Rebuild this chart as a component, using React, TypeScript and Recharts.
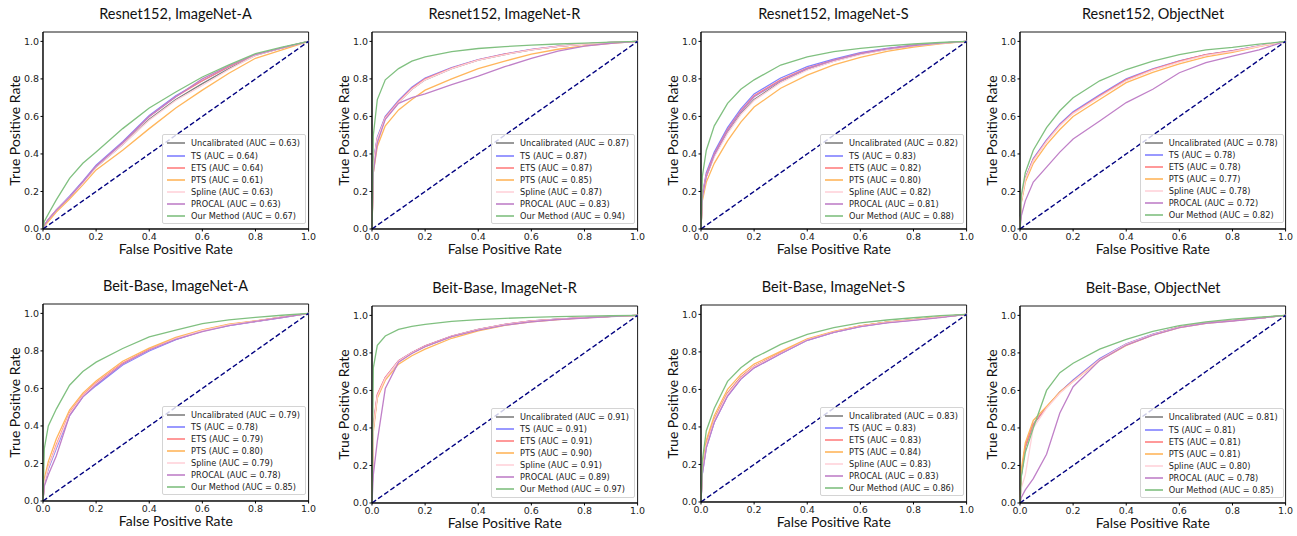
import { LineChart, Line, XAxis, YAxis, ReferenceArea, Legend, Label } from "recharts";

// shared FPR grid, every TPR list below is read at these points
const fpr = [0, 0.005, 0.02, 0.05, 0.1, 0.15, 0.2, 0.3, 0.4, 0.5, 0.6, 0.7, 0.8, 0.9, 1];
const axisTicks = [0, 0.2, 0.4, 0.6, 0.8, 1.0];

const methods = ["Uncalibrated", "TS", "ETS", "PTS", "Spline", "PROCAL", "Our Method"];
const methodColors = ["#808080", "#8080ff", "#ff8080", "#ffb65c", "#ffd3da", "#c080c8", "#80c080"];

// order of rows: Uncalibrated, TS, ETS, PTS, Spline, PROCAL, Our Method
const resnetA = [
  [0, 0.02, 0.05, 0.1, 0.17, 0.25, 0.33, 0.45, 0.585, 0.69, 0.775, 0.855, 0.925, 0.965, 1],
  [0, 0.02, 0.05, 0.1, 0.175, 0.255, 0.34, 0.465, 0.605, 0.71, 0.79, 0.865, 0.93, 0.965, 1],
  [0, 0.02, 0.05, 0.1, 0.17, 0.25, 0.335, 0.46, 0.6, 0.705, 0.79, 0.865, 0.93, 0.965, 1],
  [0, 0.015, 0.04, 0.09, 0.16, 0.235, 0.315, 0.42, 0.535, 0.645, 0.74, 0.83, 0.91, 0.955, 1],
  [0, 0.02, 0.05, 0.1, 0.17, 0.245, 0.33, 0.45, 0.58, 0.685, 0.765, 0.85, 0.925, 0.965, 1],
  [0, 0.02, 0.05, 0.1, 0.17, 0.25, 0.335, 0.46, 0.6, 0.705, 0.8, 0.87, 0.93, 0.965, 1],
  [0, 0.04, 0.08, 0.155, 0.27, 0.35, 0.41, 0.535, 0.645, 0.73, 0.81, 0.875, 0.935, 0.97, 1],
];
const resnetAAuc = [0.63, 0.64, 0.64, 0.61, 0.63, 0.63, 0.67];

const resnetR = [
  [0, 0.35, 0.48, 0.59, 0.675, 0.745, 0.795, 0.855, 0.9, 0.93, 0.955, 0.973, 0.986, 0.995, 1],
  [0, 0.36, 0.49, 0.6, 0.685, 0.755, 0.805, 0.86, 0.903, 0.933, 0.957, 0.974, 0.987, 0.995, 1],
  [0, 0.35, 0.48, 0.595, 0.68, 0.75, 0.8, 0.858, 0.902, 0.932, 0.956, 0.973, 0.986, 0.995, 1],
  [0, 0.3, 0.44, 0.55, 0.635, 0.69, 0.74, 0.8, 0.855, 0.895, 0.932, 0.958, 0.976, 0.99, 1],
  [0, 0.35, 0.48, 0.59, 0.675, 0.745, 0.795, 0.855, 0.9, 0.93, 0.955, 0.973, 0.986, 0.995, 1],
  [0, 0.3, 0.46, 0.585, 0.67, 0.7, 0.72, 0.77, 0.815, 0.865, 0.91, 0.948, 0.975, 0.99, 1],
  [0, 0.5, 0.69, 0.795, 0.855, 0.895, 0.918, 0.945, 0.962, 0.972, 0.98, 0.986, 0.991, 0.996, 1],
];
const resnetRAuc = [0.87, 0.87, 0.87, 0.85, 0.87, 0.83, 0.94];

const resnetS = [
  [0, 0.17, 0.28, 0.39, 0.515, 0.615, 0.69, 0.785, 0.85, 0.895, 0.932, 0.958, 0.977, 0.99, 1],
  [0, 0.18, 0.3, 0.41, 0.54, 0.64, 0.72, 0.805, 0.865, 0.905, 0.94, 0.963, 0.98, 0.992, 1],
  [0, 0.18, 0.29, 0.4, 0.53, 0.63, 0.71, 0.795, 0.857, 0.9, 0.936, 0.96, 0.978, 0.991, 1],
  [0, 0.15, 0.25, 0.35, 0.47, 0.57, 0.65, 0.75, 0.82, 0.875, 0.915, 0.947, 0.97, 0.987, 1],
  [0, 0.17, 0.28, 0.385, 0.51, 0.61, 0.685, 0.78, 0.847, 0.893, 0.93, 0.957, 0.976, 0.99, 1],
  [0, 0.17, 0.28, 0.395, 0.525, 0.625, 0.705, 0.79, 0.855, 0.9, 0.935, 0.96, 0.978, 0.991, 1],
  [0, 0.28, 0.42, 0.55, 0.67, 0.745, 0.795, 0.874, 0.918, 0.945, 0.963, 0.976, 0.986, 0.994, 1],
];
const resnetSAuc = [0.82, 0.83, 0.82, 0.8, 0.82, 0.81, 0.88];

const resnetObj = [
  [0, 0.15, 0.27, 0.37, 0.47, 0.555, 0.62, 0.71, 0.795, 0.85, 0.893, 0.928, 0.948, 0.975, 1],
  [0, 0.15, 0.27, 0.375, 0.475, 0.56, 0.625, 0.715, 0.8, 0.853, 0.896, 0.93, 0.95, 0.976, 1],
  [0, 0.15, 0.27, 0.37, 0.47, 0.555, 0.62, 0.71, 0.797, 0.851, 0.895, 0.93, 0.949, 0.975, 1],
  [0, 0.14, 0.25, 0.35, 0.45, 0.53, 0.6, 0.69, 0.78, 0.835, 0.88, 0.918, 0.942, 0.972, 1],
  [0, 0.15, 0.265, 0.365, 0.465, 0.55, 0.615, 0.705, 0.79, 0.847, 0.89, 0.926, 0.947, 0.974, 1],
  [0, 0.07, 0.15, 0.25, 0.33, 0.41, 0.48, 0.576, 0.674, 0.745, 0.833, 0.887, 0.922, 0.955, 1],
  [0, 0.18, 0.3, 0.42, 0.54, 0.63, 0.7, 0.79, 0.85, 0.895, 0.93, 0.955, 0.968, 0.985, 1],
];
const resnetObjAuc = [0.78, 0.78, 0.78, 0.77, 0.78, 0.72, 0.82];

const beitA = [
  [0, 0.1, 0.18, 0.29, 0.465, 0.56, 0.625, 0.73, 0.805, 0.865, 0.908, 0.938, 0.958, 0.98, 1],
  [0, 0.1, 0.17, 0.28, 0.455, 0.555, 0.615, 0.725, 0.8, 0.86, 0.905, 0.935, 0.956, 0.978, 1],
  [0, 0.1, 0.18, 0.3, 0.47, 0.565, 0.63, 0.735, 0.808, 0.867, 0.91, 0.94, 0.958, 0.98, 1],
  [0, 0.12, 0.21, 0.33, 0.485, 0.575, 0.64, 0.745, 0.815, 0.872, 0.912, 0.942, 0.96, 0.98, 1],
  [0, 0.1, 0.18, 0.29, 0.465, 0.56, 0.625, 0.73, 0.805, 0.865, 0.908, 0.938, 0.958, 0.98, 1],
  [0, 0.08, 0.14, 0.24, 0.455, 0.555, 0.62, 0.73, 0.805, 0.862, 0.903, 0.935, 0.957, 0.978, 1],
  [0, 0.28, 0.4, 0.49, 0.617, 0.69, 0.74, 0.813, 0.875, 0.911, 0.945, 0.965, 0.979, 0.99, 1],
];
const beitAAuc = [0.79, 0.78, 0.79, 0.8, 0.79, 0.78, 0.85];

const beitR = [
  [0, 0.4, 0.57, 0.665, 0.755, 0.8, 0.835, 0.888, 0.924, 0.951, 0.969, 0.98, 0.988, 0.995, 1],
  [0, 0.4, 0.575, 0.668, 0.758, 0.802, 0.837, 0.89, 0.925, 0.952, 0.97, 0.98, 0.988, 0.995, 1],
  [0, 0.42, 0.58, 0.67, 0.758, 0.802, 0.837, 0.89, 0.925, 0.952, 0.97, 0.98, 0.988, 0.995, 1],
  [0, 0.38, 0.56, 0.655, 0.74, 0.785, 0.82, 0.878, 0.918, 0.947, 0.966, 0.978, 0.987, 0.995, 1],
  [0, 0.4, 0.57, 0.665, 0.755, 0.8, 0.835, 0.888, 0.924, 0.951, 0.969, 0.98, 0.988, 0.995, 1],
  [0, 0.15, 0.33, 0.61, 0.75, 0.797, 0.833, 0.887, 0.922, 0.948, 0.966, 0.978, 0.986, 0.994, 1],
  [0, 0.72, 0.84, 0.89, 0.925, 0.942, 0.952, 0.968, 0.977, 0.984, 0.989, 0.993, 0.996, 0.998, 1],
];
const beitRAuc = [0.91, 0.91, 0.91, 0.9, 0.91, 0.89, 0.97];

const beitS = [
  [0, 0.17, 0.31, 0.44, 0.58, 0.665, 0.722, 0.795, 0.865, 0.906, 0.937, 0.958, 0.972, 0.986, 1],
  [0, 0.15, 0.29, 0.425, 0.565, 0.655, 0.715, 0.79, 0.862, 0.904, 0.935, 0.956, 0.97, 0.985, 1],
  [0, 0.17, 0.31, 0.44, 0.58, 0.665, 0.723, 0.796, 0.866, 0.907, 0.938, 0.958, 0.972, 0.986, 1],
  [0, 0.19, 0.33, 0.46, 0.6, 0.68, 0.735, 0.803, 0.869, 0.909, 0.939, 0.959, 0.972, 0.986, 1],
  [0, 0.16, 0.3, 0.435, 0.575, 0.66, 0.72, 0.793, 0.864, 0.905, 0.936, 0.957, 0.971, 0.985, 1],
  [0, 0.15, 0.29, 0.425, 0.565, 0.655, 0.715, 0.79, 0.862, 0.904, 0.935, 0.955, 0.968, 0.983, 1],
  [0, 0.22, 0.38, 0.5, 0.643, 0.715, 0.768, 0.84, 0.893, 0.929, 0.955, 0.97, 0.982, 0.993, 1],
];
const beitSAuc = [0.83, 0.83, 0.83, 0.84, 0.83, 0.83, 0.86];

const beitObj = [
  [0, 0.15, 0.3, 0.42, 0.51, 0.59, 0.65, 0.765, 0.846, 0.898, 0.937, 0.96, 0.972, 0.986, 1],
  [0, 0.15, 0.3, 0.42, 0.51, 0.59, 0.655, 0.77, 0.848, 0.9, 0.938, 0.96, 0.972, 0.986, 1],
  [0, 0.16, 0.3, 0.42, 0.51, 0.59, 0.65, 0.765, 0.845, 0.897, 0.937, 0.96, 0.972, 0.986, 1],
  [0, 0.18, 0.32, 0.44, 0.515, 0.59, 0.648, 0.76, 0.84, 0.895, 0.935, 0.958, 0.971, 0.986, 1],
  [0, 0.08, 0.15, 0.4, 0.505, 0.585, 0.648, 0.763, 0.845, 0.897, 0.936, 0.959, 0.971, 0.985, 1],
  [0, 0.03, 0.07, 0.13, 0.26, 0.48, 0.62, 0.76, 0.842, 0.895, 0.935, 0.958, 0.97, 0.984, 1],
  [0, 0.14, 0.27, 0.4, 0.6, 0.695, 0.745, 0.82, 0.872, 0.915, 0.945, 0.965, 0.98, 0.99, 1],
];
const beitObjAuc = [0.81, 0.81, 0.81, 0.81, 0.8, 0.78, 0.85];

const chance = [
  { x: 0, y: 0 },
  { x: 1, y: 1 },
];

const panels = [
  { title: "Resnet152, ImageNet-A", tprs: resnetA, aucs: resnetAAuc, left: 42.7, bottom: 229.3 },
  { title: "Resnet152, ImageNet-R", tprs: resnetR, aucs: resnetRAuc, left: 371.7, bottom: 229.3 },
  { title: "Resnet152, ImageNet-S", tprs: resnetS, aucs: resnetSAuc, left: 700.7, bottom: 229.3 },
  { title: "Resnet152, ObjectNet", tprs: resnetObj, aucs: resnetObjAuc, left: 1020.3, bottom: 228.5 },
  { title: "Beit-Base, ImageNet-A", tprs: beitA, aucs: beitAAuc, left: 42.7, bottom: 500.5 },
  { title: "Beit-Base, ImageNet-R", tprs: beitR, aucs: beitRAuc, left: 371.7, bottom: 503 },
  { title: "Beit-Base, ImageNet-S", tprs: beitS, aucs: beitSAuc, left: 700.7, bottom: 501.5 },
  { title: "Beit-Base, ObjectNet", tprs: beitObj, aucs: beitObjAuc, left: 1020.3, bottom: 503.3 },
];

const PLOT_W = 265.6;
const PLOT_H = 197;
const M_LEFT = 42;
const M_TOP = 32;
const M_RIGHT = 12;
const M_BOTTOM = 40;
const CHART_W = M_LEFT + PLOT_W + M_RIGHT;
const CHART_H = M_TOP + PLOT_H + M_BOTTOM;

const tickStyle = { fontSize: 9.5, fill: "#222", fontFamily: "DejaVu Sans" };
const labelFont = "Lato, 'Open Sans', sans-serif";

function LegendBox({ aucs }: { aucs: number[] }) {
  return (
    <div
      style={{
        background: "rgba(255,255,255,0.8)",
        border: "1px solid #d4d4d4",
        borderRadius: 2,
        padding: "2px 5px 1px 4px",
        fontFamily: "DejaVu Sans",
        fontSize: 8.2,
        lineHeight: "12.06px",
        color: "#222",
        whiteSpace: "nowrap",
      }}
    >
      {methods.map((m, i) => (
        <div key={m} style={{ display: "flex", alignItems: "center", height: 12.06 }}>
          <svg width={18} height={4} style={{ marginRight: 6, flex: "none" }}>
            <line x1={0} y1={2} x2={18} y2={2} stroke={methodColors[i]} strokeWidth={1.6} />
          </svg>
          <span>
            {m} (AUC = {aucs[i].toFixed(2)})
          </span>
        </div>
      ))}
    </div>
  );
}

function RocPanel({ title, tprs, aucs, left, bottom }: (typeof panels)[number]) {
  const chartLeft = left - M_LEFT;
  const chartTop = bottom - PLOT_H - M_TOP;
  const series = tprs.map((vals) => fpr.map((x, j) => ({ x, y: vals[j] })));

  return (
    <div style={{ position: "absolute", left: chartLeft, top: chartTop, width: CHART_W, height: CHART_H }}>
      <div
        style={{
          position: "absolute",
          left: M_LEFT,
          width: PLOT_W,
          top: M_TOP - 28,
          height: 20,
          lineHeight: "20px",
          textAlign: "center",
          fontFamily: labelFont,
          fontSize: 14.5,
          color: "#111",
        }}
      >
        {title}
      </div>
      <LineChart width={CHART_W} height={CHART_H} margin={{ top: M_TOP, right: M_RIGHT, left: 0, bottom: 0 }}>
        <XAxis
          type="number"
          dataKey="x"
          domain={[0, 1]}
          ticks={axisTicks}
          tickFormatter={(v) => v.toFixed(1)}
          height={M_BOTTOM}
          tick={tickStyle}
          tickSize={2.5}
          tickMargin={2}
          tickLine={{ stroke: "#000" }}
          axisLine={{ stroke: "#000" }}
        >
          <Label value="False Positive Rate" position="center" fontSize={14} fontFamily={labelFont} fill="#111" />
        </XAxis>
        <YAxis
          type="number"
          domain={[0, 1.05]}
          ticks={axisTicks}
          tickFormatter={(v) => v.toFixed(1)}
          width={M_LEFT}
          tick={tickStyle}
          tickSize={2.5}
          tickMargin={1.5}
          tickLine={{ stroke: "#000" }}
          axisLine={{ stroke: "#000" }}
        >
          <Label
            value="True Positive Rate"
            position="center"
            angle={-90}
            dx={-6.5}
            fontSize={14}
            fontFamily={labelFont}
            fill="#111"
          />
        </YAxis>
        <ReferenceArea x1={0} x2={1} y1={0} y2={1.05} fill="none" stroke="#000" strokeWidth={0.9} />
        {series.map((d, i) => (
          <Line
            key={methods[i]}
            data={d}
            dataKey="y"
            type="linear"
            stroke={methodColors[i]}
            strokeWidth={1.3}
            dot={false}
            isAnimationActive={false}
          />
        ))}
        <Line
          data={chance}
          dataKey="y"
          type="linear"
          stroke="#000080"
          strokeWidth={1.4}
          strokeDasharray="5 2.5"
          dot={false}
          isAnimationActive={false}
        />
        <Legend
          layout="vertical"
          align="center"
          verticalAlign="middle"
          wrapperStyle={{ right: M_RIGHT + 2.3, bottom: M_BOTTOM + 5.5, width: "auto", left: "auto", top: "auto" }}
          content={() => <LegendBox aucs={aucs} />}
        />
      </LineChart>
    </div>
  );
}

export default function App() {
  return (
    <div style={{ position: "absolute", left: 0, top: 0, width: 1297, height: 536, background: "#fff" }}>
      {panels.map((p) => (
        <RocPanel key={p.title} {...p} />
      ))}
    </div>
  );
}
